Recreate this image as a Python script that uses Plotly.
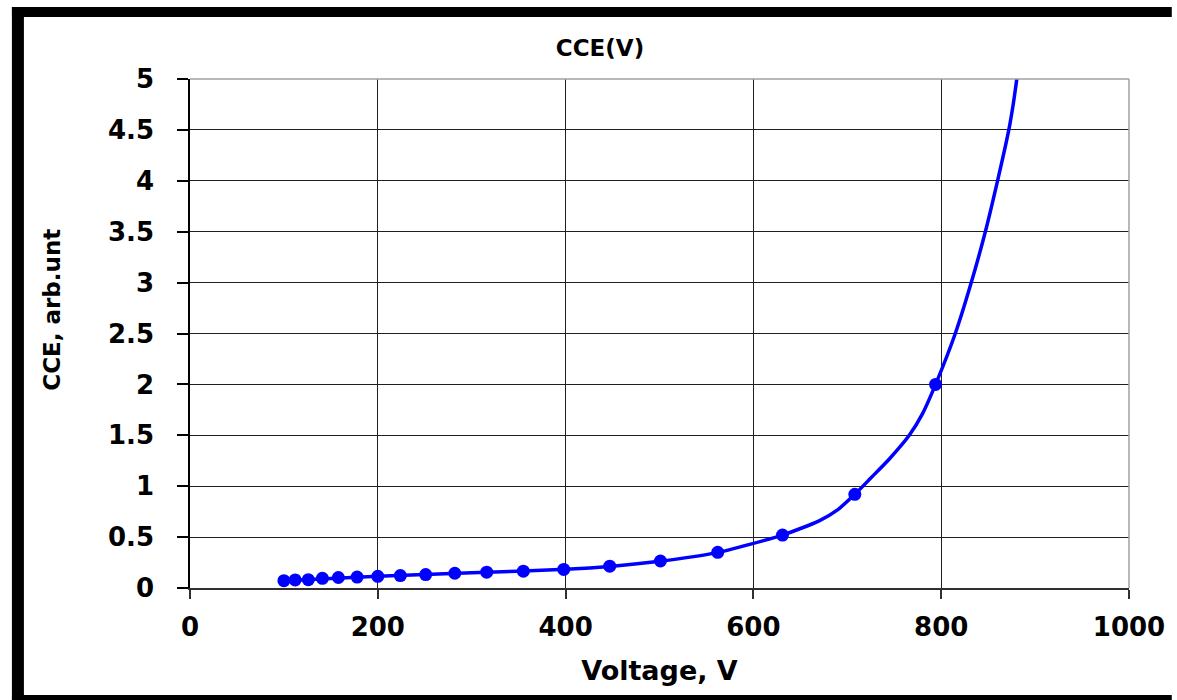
import plotly.graph_objects as go

# ---- data ----
voltage = [100, 112, 126, 141, 158, 178, 200, 224, 251, 282, 316, 355, 398, 447, 501, 562, 631, 708, 794]
cce = [0.072, 0.079, 0.082, 0.095, 0.103, 0.107, 0.115, 0.122, 0.132, 0.145, 0.155, 0.165, 0.182,
       0.214, 0.265, 0.35, 0.52, 0.92, 2.0]

# smooth trend curve drawn through the points
fit_voltage = [100, 200, 300, 400, 450, 500, 560, 631, 670, 690, 708, 725, 745, 766, 780, 794,
               815, 832, 847, 860, 872, 877, 880.5, 882]
fit_cce = [0.072, 0.115, 0.15, 0.183, 0.214, 0.262, 0.345, 0.52, 0.66, 0.77, 0.92, 1.08, 1.27,
           1.5, 1.71, 2.0, 2.5, 3.0, 3.5, 4.0, 4.5, 4.77, 5.0, 5.1]

x_ticks = [0, 200, 400, 600, 800, 1000]
y_ticks = [0, 0.5, 1, 1.5, 2, 2.5, 3, 3.5, 4, 4.5, 5]
y_tick_text = ["0", "0.5", "1", "1.5", "2", "2.5", "3", "3.5", "4", "4.5", "5"]

title_text = "CCE(V)"
x_title = "Voltage, V"
y_title = "CCE, arb.unt"

# ---- layout geometry (pixels) ----
W, H = 1177, 700
L, R, T, B = 190, 43, 79, 112
PW, PH = W - L - R, H - T - B

def px(xp):
    return (xp - L) / PW

def py(yp):
    return (H - B - yp) / PH

FONT = "DejaVu Sans"
BLUE = "#0000FF"
GRID = "#202020"

fig = go.Figure()
fig.add_trace(go.Scatter(
    x=fit_voltage, y=fit_cce, mode="lines",
    line=dict(color=BLUE, width=3.5, shape="spline", smoothing=0.6),
    showlegend=False, hoverinfo="skip"))
fig.add_trace(go.Scatter(
    x=voltage, y=cce, mode="markers",
    marker=dict(color=BLUE, size=13, symbol="circle"),
    showlegend=False))

shapes = [
    # plot-area border (grey, top/right)
    dict(type="line", xref="paper", yref="paper", x0=0, x1=1, y0=1, y1=1,
         line=dict(color="#a0a0a0", width=1.5), layer="above"),
    dict(type="line", xref="paper", yref="paper", x0=1, x1=1, y0=0, y1=1,
         line=dict(color="#a0a0a0", width=1.5), layer="above"),
    # black frame pieces (thick lines)
    dict(type="line", xref="paper", yref="paper", x0=px(17), x1=px(17), y0=py(702), y1=py(7),
         line=dict(color="black", width=12)),
    dict(type="line", xref="paper", yref="paper", x0=px(11), x1=px(1177), y0=py(12), y1=py(12),
         line=dict(color="black", width=10)),
    dict(type="line", xref="paper", yref="paper", x0=px(11), x1=px(1177), y0=py(698), y1=py(698),
         line=dict(color="black", width=6)),
]

annotations = [
    dict(text=y_title, xref="paper", yref="paper", x=px(51), y=py(310),
         xanchor="center", yanchor="middle", textangle=-90, showarrow=False,
         font=dict(family=FONT, size=23, color="black", weight="bold")),
]

fig.update_layout(
    width=W, height=H,
    margin=dict(l=L, r=R, t=T, b=B, pad=0),
    paper_bgcolor="white", plot_bgcolor="white",
    font=dict(family=FONT, color="black"),
    title=dict(text=title_text, x=600 / W, xref="container", xanchor="center",
               y=1 - 48 / H, yref="container", yanchor="middle",
               font=dict(family=FONT, size=23, color="black", weight="bold")),
    shapes=shapes,
    annotations=annotations,
    xaxis=dict(range=[0, 1000], tickvals=x_ticks, ticktext=[str(v) for v in x_ticks],
               showgrid=True, gridcolor=GRID, gridwidth=1.2,
               showline=True, linecolor="#303030", linewidth=1.5,
               ticks="outside", ticklen=9, tickcolor="#303030", tickwidth=1.5,
               ticklabelstandoff=6,
               tickfont=dict(family=FONT, size=26, color="black", weight="bold"),
               title=dict(text=x_title, standoff=20,
                          font=dict(family=FONT, size=27, color="black", weight="bold")),
               zeroline=False),
    yaxis=dict(range=[0, 5], tickvals=y_ticks, ticktext=y_tick_text,
               showgrid=True, gridcolor=GRID, gridwidth=1.2,
               showline=True, linecolor="black", linewidth=1.5,
               ticks="outside", ticklen=11, tickcolor="black", tickwidth=1.5,
               ticklabelstandoff=18,
               tickfont=dict(family=FONT, size=26, color="black", weight="bold"),
               zeroline=False),
)

fig.write_html("out.html")
